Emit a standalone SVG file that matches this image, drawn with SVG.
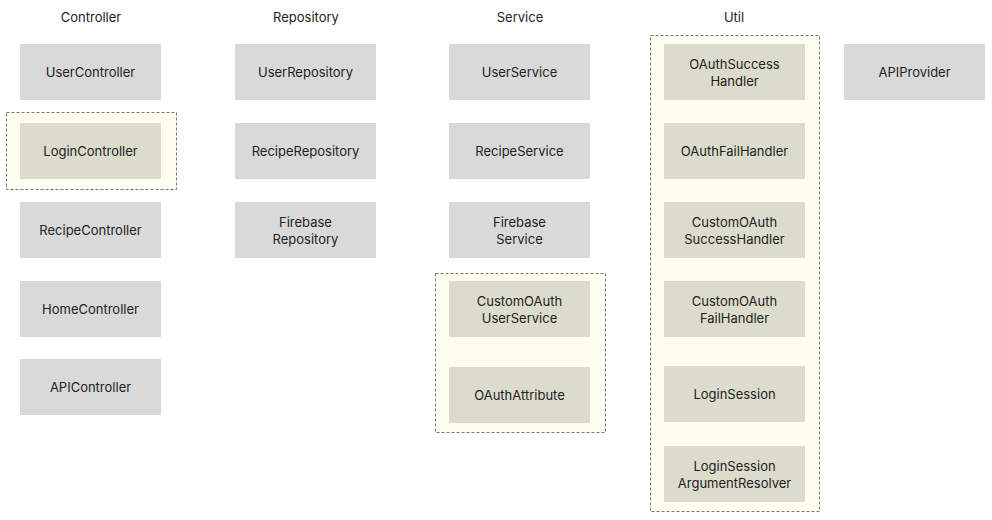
<svg xmlns="http://www.w3.org/2000/svg" width="992" height="520" viewBox="0 0 992 520">
<style>
text{font-family:Inter,"Liberation Sans",sans-serif;font-size:13px;fill:#222;text-anchor:middle}
.n{fill:#d9d9d9}
.g{fill:#dcdccc}
.grp{fill:#fefef0;stroke:#777;stroke-width:1;stroke-dasharray:3,2}
</style>
<rect width="992" height="520" fill="#fff"/>
<g id="headers">
<text x="91" y="22">Controller</text>
<text x="306" y="22">Repository</text>
<text x="520" y="22">Service</text>
<text x="734" y="22">Util</text>
</g>
<g id="groups">
<rect class="grp" x="6.5" y="112.5" width="170" height="77"/>
<rect class="grp" x="435.5" y="273.5" width="170" height="159"/>
<rect class="grp" x="650.5" y="35.5" width="169" height="476"/>
</g>
<g id="UserController"><rect class="n" x="20" y="44" width="141" height="56"/><text x="90.5" y="76.5">UserController</text></g>
<g id="LoginController"><rect class="g" x="20" y="123" width="141" height="56"/><text x="90.5" y="155.5">LoginController</text></g>
<g id="RecipeController"><rect class="n" x="20" y="202" width="141" height="56"/><text x="90.5" y="234.5">RecipeController</text></g>
<g id="HomeController"><rect class="n" x="20" y="281" width="141" height="56"/><text x="90.5" y="313.5">HomeController</text></g>
<g id="APIController"><rect class="n" x="20" y="359" width="141" height="56"/><text x="90.5" y="391.5">APIController</text></g>
<g id="UserRepository"><rect class="n" x="235" y="44" width="141" height="56"/><text x="305.5" y="76.5">UserRepository</text></g>
<g id="RecipeRepository"><rect class="n" x="235" y="123" width="141" height="56"/><text x="305.5" y="155.5">RecipeRepository</text></g>
<g id="FirebaseRepository"><rect class="n" x="235" y="202" width="141" height="56"/><text x="305.5" y="226.5">Firebase</text><text x="305.5" y="243.5">Repository</text></g>
<g id="UserService"><rect class="n" x="449" y="44" width="141" height="56"/><text x="519.5" y="76.5">UserService</text></g>
<g id="RecipeService"><rect class="n" x="449" y="123" width="141" height="56"/><text x="519.5" y="155.5">RecipeService</text></g>
<g id="FirebaseService"><rect class="n" x="449" y="202" width="141" height="56"/><text x="519.5" y="226.5">Firebase</text><text x="519.5" y="243.5">Service</text></g>
<g id="CustomOAuthUserService"><rect class="g" x="449" y="281" width="141" height="56"/><text x="519.5" y="305.5">CustomOAuth</text><text x="519.5" y="322.5">UserService</text></g>
<g id="OAuthAttribute"><rect class="g" x="449" y="367" width="141" height="56"/><text x="519.5" y="399.5">OAuthAttribute</text></g>
<g id="OAuthSuccessHandler"><rect class="g" x="664" y="44" width="141" height="56"/><text x="734.5" y="68.5">OAuthSuccess</text><text x="734.5" y="85.5">Handler</text></g>
<g id="OAuthFailHandler"><rect class="g" x="664" y="123" width="141" height="56"/><text x="734.5" y="155.5">OAuthFailHandler</text></g>
<g id="CustomOAuthSuccessHandler"><rect class="g" x="664" y="202" width="141" height="56"/><text x="734.5" y="226.5">CustomOAuth</text><text x="734.5" y="243.5">SuccessHandler</text></g>
<g id="CustomOAuthFailHandler"><rect class="g" x="664" y="281" width="141" height="56"/><text x="734.5" y="305.5">CustomOAuth</text><text x="734.5" y="322.5">FailHandler</text></g>
<g id="LoginSession"><rect class="g" x="664" y="366" width="141" height="56"/><text x="734.5" y="398.5">LoginSession</text></g>
<g id="LoginSessionArgumentResolver"><rect class="g" x="664" y="446" width="141" height="56"/><text x="734.5" y="470.5">LoginSession</text><text x="734.5" y="487.5">ArgumentResolver</text></g>
<g id="APIProvider"><rect class="n" x="844" y="44" width="141" height="56"/><text x="914.5" y="76.5">APIProvider</text></g>
<g id="connectors"></g>
</svg>
